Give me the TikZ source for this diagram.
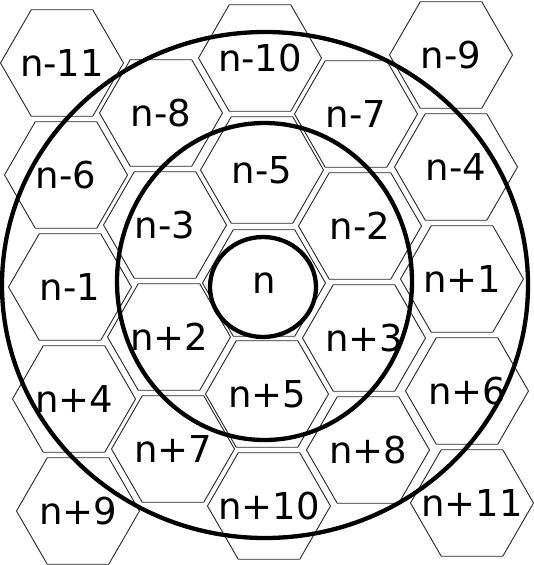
\documentclass[tikz,border=0pt]{standalone}
\usepackage{fontspec}
\setmainfont{DejaVu Sans}
\usepackage{tikz}
\usetikzlibrary{shapes.geometric}
\tikzset{
  cell-node/.style={draw=black!85, line width=0.9pt, regular polygon,
    regular polygon sides=6, minimum size=123pt, inner sep=0pt, outer sep=0pt},
  cell-text/.style={inner sep=0pt, font=\fontsize{37}{40}\selectfont},
  ring-line/.style={draw=black, line width=4.3pt}
}

\begin{document}
\begin{tikzpicture}[x=1pt, y=-1pt]
\useasboundingbox (0,0) rectangle (533,565);
% cells, column by column
\foreach \px/\py/\cid/\lbl in {
    62/63/m11/n-11, 66/175/m6/n-6, 70/287/m1/n-1, 74/399/p4/n+4, 78/511/p9/n+9,
    161/113/m8/n-8, 165/225/m3/n-3, 169/337/p2/n+2, 173/449/p7/n+7,
    260/58/m10/n-10, 262/170/m5/n-5, 264/283/c0/n, 267/394/p5/n+5, 269/506/p10/n+10,
    356/114/m7/n-7, 360/226/m2/n-2, 364/338/p3/n+3, 368/450/p8/n+8,
    451/55/m9/n-9, 456/167/m4/n-4, 462/279/p1/n+1, 467/391/p6/n+6, 472/503/p11/n+11}
{
  \node[cell-node] (\cid) at (\px,\py) {};
  \node[cell-text] (\cid-t) at (\cid) {\lbl};
}
% rings round the centre cell
\draw[ring-line] (263,287) ellipse [x radius=53, y radius=50];
\draw[ring-line] (264.5,281.5) ellipse [x radius=147.5, y radius=158.5];
\draw[ring-line] (265,285) ellipse [x radius=263, y radius=253];
\end{tikzpicture}
\end{document}
